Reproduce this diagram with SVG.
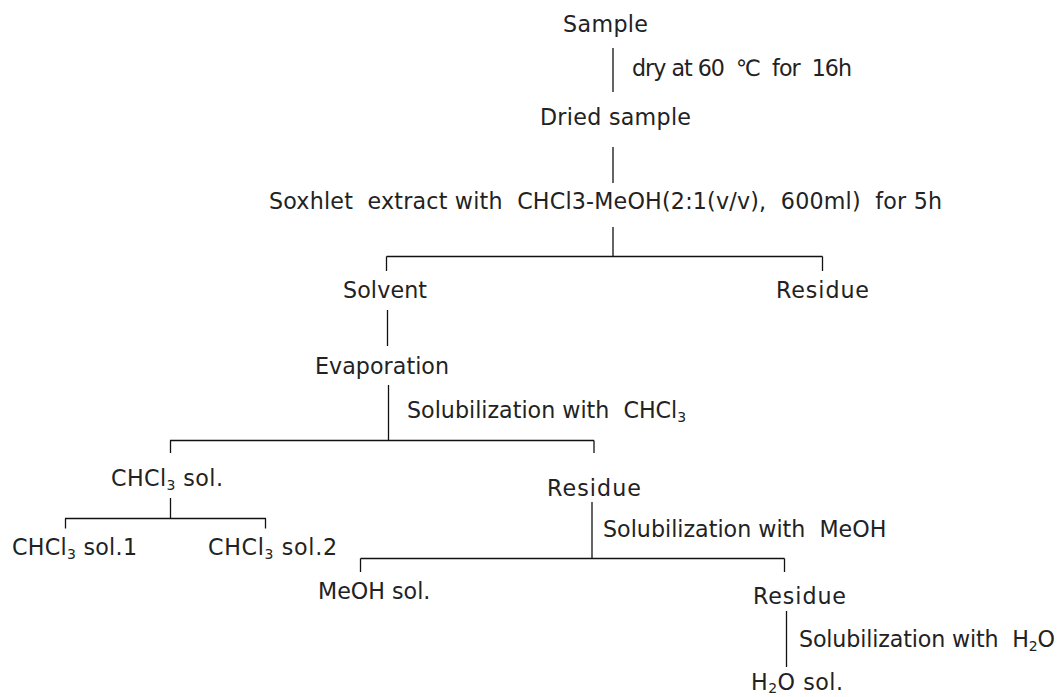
<svg xmlns="http://www.w3.org/2000/svg" width="1062" height="697" viewBox="0 0 1062 697">
  <style>
    text { font-family: "DejaVu Sans", "Liberation Sans", sans-serif; font-size: 22.2px; fill: #222222; }
    .sub { font-size: 14px; }
    #connectors line { stroke: #111; stroke-width: 1.3; fill: none; }
  </style>
  <rect width="1062" height="697" fill="#ffffff"/>

  <!-- tree connectors -->
  <g id="connectors">
    <line x1="613" y1="48" x2="613" y2="92"/>
    <line x1="613" y1="147" x2="613" y2="183"/>
    <line x1="613" y1="227" x2="613" y2="256.5"/>
    <line x1="386.5" y1="256.5" x2="822.5" y2="256.5"/>
    <line x1="386.5" y1="256.5" x2="386.5" y2="271"/>
    <line x1="822.5" y1="256.5" x2="822.5" y2="271"/>
    <line x1="387.5" y1="310" x2="387.5" y2="346"/>
    <line x1="388.5" y1="385" x2="388.5" y2="440.5"/>
    <line x1="170" y1="440.5" x2="594" y2="440.5"/>
    <line x1="170.5" y1="440.5" x2="170.5" y2="453"/>
    <line x1="594" y1="440.5" x2="594" y2="453"/>
    <line x1="170.5" y1="498" x2="170.5" y2="518.5"/>
    <line x1="65" y1="518.5" x2="266" y2="518.5"/>
    <line x1="65.5" y1="518.5" x2="65.5" y2="528.5"/>
    <line x1="265.5" y1="518.5" x2="265.5" y2="528.5"/>
    <line x1="592" y1="502" x2="592" y2="558.5"/>
    <line x1="360.5" y1="558.5" x2="784.5" y2="558.5"/>
    <line x1="360.5" y1="558.5" x2="360.5" y2="572"/>
    <line x1="784.5" y1="558.5" x2="784.5" y2="572"/>
    <line x1="786.5" y1="611" x2="786.5" y2="667"/>
  </g>

  <!-- step labels on connectors -->
  <g id="step-dry"><text x="632" y="76" textLength="220" lengthAdjust="spacing" xml:space="preserve">dry at 60  ℃  for  16h</text></g>
  <g id="step-soxhlet"><text x="269" y="209" textLength="673" lengthAdjust="spacing" xml:space="preserve">Soxhlet  extract with  CHCl3-MeOH(2:1(v/v),  600ml)  for 5h</text></g>
  <g id="step-sol-chcl3"><text x="407" y="418" xml:space="preserve">Solubilization with  CHCl<tspan class="sub" dy="4">3</tspan></text></g>
  <g id="step-sol-meoh"><text x="603" y="537" xml:space="preserve">Solubilization with  MeOH</text></g>
  <g id="step-sol-h2o"><text x="799" y="647" textLength="256" lengthAdjust="spacing" xml:space="preserve">Solubilization with  H<tspan class="sub" dy="4">2</tspan><tspan dy="-4">O</tspan></text></g>

  <!-- nodes -->
  <g id="sample"><text x="563" y="32" textLength="85" lengthAdjust="spacing">Sample</text></g>
  <g id="dried-sample"><text x="540" y="125" textLength="151" lengthAdjust="spacing">Dried sample</text></g>
  <g id="solvent"><text x="343" y="298" textLength="84" lengthAdjust="spacing">Solvent</text></g>
  <g id="residue-1"><text x="776" y="298" textLength="93" lengthAdjust="spacing">Residue</text></g>
  <g id="evaporation"><text x="315" y="374" textLength="134" lengthAdjust="spacing">Evaporation</text></g>
  <g id="chcl3-sol"><text x="111" y="486" textLength="112" lengthAdjust="spacing">CHCl<tspan class="sub" dy="4">3</tspan><tspan dy="-4"> sol.</tspan></text></g>
  <g id="residue-2"><text x="547" y="496" textLength="94" lengthAdjust="spacing">Residue</text></g>
  <g id="chcl3-sol-1"><text x="12" y="555" textLength="125" lengthAdjust="spacing">CHCl<tspan class="sub" dy="4">3</tspan><tspan dy="-4"> sol.1</tspan></text></g>
  <g id="chcl3-sol-2"><text x="208" y="555" textLength="129" lengthAdjust="spacing">CHCl<tspan class="sub" dy="4">3</tspan><tspan dy="-4"> sol.2</tspan></text></g>
  <g id="meoh-sol"><text x="318" y="599">MeOH sol.</text></g>
  <g id="residue-3"><text x="753" y="604" textLength="93" lengthAdjust="spacing">Residue</text></g>
  <g id="h2o-sol"><text x="751" y="690" textLength="92" lengthAdjust="spacing">H<tspan class="sub" dy="3">2</tspan><tspan dy="-3">O sol.</tspan></text></g>
</svg>
